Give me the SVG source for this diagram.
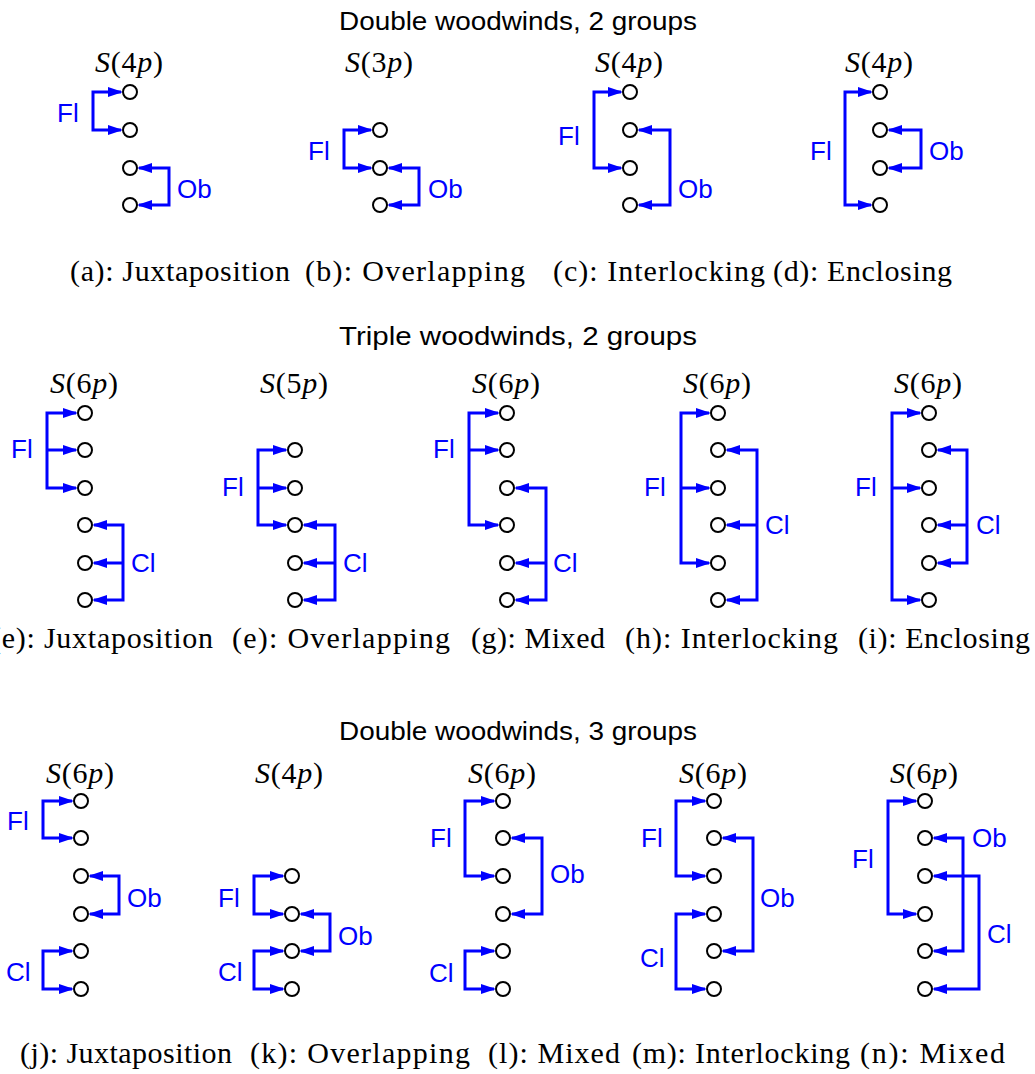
<svg xmlns="http://www.w3.org/2000/svg" width="1035" height="1074" viewBox="0 0 1035 1074">
<style>
.c{fill:#fff;stroke:#000;stroke-width:2}
.w{fill:none;stroke:#0000ff;stroke-width:3;stroke-linejoin:miter;stroke-linecap:butt}
.o{marker-start:url(#ah);marker-end:url(#ah)}
.a{marker-end:url(#ah)}
.lb{font-family:"Liberation Sans",Arial,sans-serif;font-size:26px;fill:#0000ff}
.t{font-family:"Liberation Sans",Arial,sans-serif;font-size:25px;fill:#000;text-anchor:middle}
.s{font-family:"Liberation Serif","Times New Roman",serif;font-size:30px;fill:#000;text-anchor:middle}
.cap{font-family:"Liberation Serif","Times New Roman",serif;font-size:30px;fill:#000}
.i{font-style:italic}
</style>
<defs>
<marker id="ah" viewBox="0 0 15 10" refX="13" refY="5" markerWidth="15" markerHeight="10" markerUnits="userSpaceOnUse" orient="auto-start-reverse">
<path d="M0,0 L15,5 L0,10 z" fill="#0000ff"/>
</marker>
</defs>
<rect width="1035" height="1074" fill="#fff"/>

<g id="titles">
<text class="t" x="518" y="30" textLength="358" lengthAdjust="spacingAndGlyphs">Double woodwinds, 2 groups</text>
<text class="t" x="518" y="345" textLength="358" lengthAdjust="spacingAndGlyphs">Triple woodwinds, 2 groups</text>
<text class="t" x="518" y="740" textLength="358" lengthAdjust="spacingAndGlyphs">Double woodwinds, 3 groups</text>
</g>

<g id="connectors">
<!-- a -->
<path class="w o" d="M121,92 H93 V130 H121"/>
<path class="w o" d="M139,168 H169 V205 H139"/>
<!-- b -->
<path class="w o" d="M371,130 H344 V168 H371"/>
<path class="w o" d="M389,168 H419 V205 H389"/>
<!-- c -->
<path class="w o" d="M621,92 H594 V168 H621"/>
<path class="w o" d="M639,130 H670 V205 H639"/>
<!-- d -->
<path class="w o" d="M871,92 H845 V205 H871"/>
<path class="w o" d="M889,130 H921 V168 H889"/>
<!-- e -->
<path class="w o" d="M76,413 H47 V488 H76"/>
<path class="w a" d="M47,450 H76"/>
<path class="w o" d="M94,525 H123 V600 H94"/>
<path class="w a" d="M123,563 H94"/>
<!-- e2 -->
<path class="w o" d="M286,450 H258 V525 H286"/>
<path class="w a" d="M258,488 H286"/>
<path class="w o" d="M304,525 H335 V600 H304"/>
<path class="w a" d="M335,563 H304"/>
<!-- g -->
<path class="w o" d="M498,413 H469 V525 H498"/>
<path class="w a" d="M469,450 H498"/>
<path class="w o" d="M516,488 H546 V600 H516"/>
<path class="w a" d="M546,563 H516"/>
<!-- h -->
<path class="w o" d="M709,413 H681 V563 H709"/>
<path class="w a" d="M681,488 H709"/>
<path class="w o" d="M727,450 H757 V600 H727"/>
<path class="w a" d="M757,525 H727"/>
<!-- i -->
<path class="w o" d="M920,413 H892 V600 H920"/>
<path class="w a" d="M892,488 H920"/>
<path class="w o" d="M938,450 H967 V563 H938"/>
<path class="w a" d="M967,525 H938"/>
<!-- j -->
<path class="w o" d="M72,801 H43 V838 H72"/>
<path class="w o" d="M90,876 H119 V914 H90"/>
<path class="w o" d="M72,951 H43 V989 H72"/>
<!-- k -->
<path class="w o" d="M283,876 H254 V914 H283"/>
<path class="w o" d="M301,914 H330 V951 H301"/>
<path class="w o" d="M283,951 H254 V989 H283"/>
<!-- l -->
<path class="w o" d="M494,801 H465 V876 H494"/>
<path class="w o" d="M512,838 H542 V914 H512"/>
<path class="w o" d="M494,951 H465 V989 H494"/>
<!-- m -->
<path class="w o" d="M705,801 H676 V876 H705"/>
<path class="w o" d="M723,838 H753 V951 H723"/>
<path class="w o" d="M705,914 H676 V989 H705"/>
<!-- n -->
<path class="w o" d="M916,801 H888 V914 H916"/>
<path class="w o" d="M934,876 H979 V989 H934"/>
<path class="w o" d="M934,838 H963 V951 H934"/>
</g>

<g id="diagram-a">
<text class="s" x="129" y="72" textLength="68" lengthAdjust="spacing"><tspan class="i">S</tspan>(4<tspan class="i">p</tspan>)</text>
<circle class="c" cx="130" cy="92" r="7"/><circle class="c" cx="130" cy="130" r="7"/><circle class="c" cx="130" cy="168" r="7"/><circle class="c" cx="130" cy="205" r="7"/>
<text class="lb" x="57" y="122">Fl</text><text class="lb" x="177" y="198">Ob</text>
</g>
<g id="diagram-b">
<text class="s" x="379" y="72" textLength="68" lengthAdjust="spacing"><tspan class="i">S</tspan>(3<tspan class="i">p</tspan>)</text>
<circle class="c" cx="380" cy="130" r="7"/><circle class="c" cx="380" cy="168" r="7"/><circle class="c" cx="380" cy="205" r="7"/>
<text class="lb" x="308" y="160">Fl</text><text class="lb" x="428" y="198">Ob</text>
</g>
<g id="diagram-c">
<text class="s" x="629" y="72" textLength="68" lengthAdjust="spacing"><tspan class="i">S</tspan>(4<tspan class="i">p</tspan>)</text>
<circle class="c" cx="630" cy="92" r="7"/><circle class="c" cx="630" cy="130" r="7"/><circle class="c" cx="630" cy="168" r="7"/><circle class="c" cx="630" cy="205" r="7"/>
<text class="lb" x="558" y="145">Fl</text><text class="lb" x="678" y="198">Ob</text>
</g>
<g id="diagram-d">
<text class="s" x="879" y="72" textLength="68" lengthAdjust="spacing"><tspan class="i">S</tspan>(4<tspan class="i">p</tspan>)</text>
<circle class="c" cx="880" cy="92" r="7"/><circle class="c" cx="880" cy="130" r="7"/><circle class="c" cx="880" cy="168" r="7"/><circle class="c" cx="880" cy="205" r="7"/>
<text class="lb" x="810" y="160">Fl</text><text class="lb" x="929" y="160">Ob</text>
</g>

<g id="diagram-e">
<text class="s" x="84" y="393" textLength="68" lengthAdjust="spacing"><tspan class="i">S</tspan>(6<tspan class="i">p</tspan>)</text>
<circle class="c" cx="85" cy="413" r="7"/><circle class="c" cx="85" cy="450" r="7"/><circle class="c" cx="85" cy="488" r="7"/><circle class="c" cx="85" cy="525" r="7"/><circle class="c" cx="85" cy="563" r="7"/><circle class="c" cx="85" cy="600" r="7"/>
<text class="lb" x="11" y="458">Fl</text><text class="lb" x="131" y="572">Cl</text>
</g>
<g id="diagram-e2">
<text class="s" x="294" y="393" textLength="68" lengthAdjust="spacing"><tspan class="i">S</tspan>(5<tspan class="i">p</tspan>)</text>
<circle class="c" cx="295" cy="450" r="7"/><circle class="c" cx="295" cy="488" r="7"/><circle class="c" cx="295" cy="525" r="7"/><circle class="c" cx="295" cy="563" r="7"/><circle class="c" cx="295" cy="600" r="7"/>
<text class="lb" x="222" y="496">Fl</text><text class="lb" x="343" y="572">Cl</text>
</g>
<g id="diagram-g">
<text class="s" x="506" y="393" textLength="68" lengthAdjust="spacing"><tspan class="i">S</tspan>(6<tspan class="i">p</tspan>)</text>
<circle class="c" cx="507" cy="413" r="7"/><circle class="c" cx="507" cy="450" r="7"/><circle class="c" cx="507" cy="488" r="7"/><circle class="c" cx="507" cy="525" r="7"/><circle class="c" cx="507" cy="563" r="7"/><circle class="c" cx="507" cy="600" r="7"/>
<text class="lb" x="433" y="458">Fl</text><text class="lb" x="553" y="572">Cl</text>
</g>
<g id="diagram-h">
<text class="s" x="717" y="393" textLength="68" lengthAdjust="spacing"><tspan class="i">S</tspan>(6<tspan class="i">p</tspan>)</text>
<circle class="c" cx="718" cy="413" r="7"/><circle class="c" cx="718" cy="450" r="7"/><circle class="c" cx="718" cy="488" r="7"/><circle class="c" cx="718" cy="525" r="7"/><circle class="c" cx="718" cy="563" r="7"/><circle class="c" cx="718" cy="600" r="7"/>
<text class="lb" x="644" y="496">Fl</text><text class="lb" x="765" y="534">Cl</text>
</g>
<g id="diagram-i">
<text class="s" x="928" y="393" textLength="68" lengthAdjust="spacing"><tspan class="i">S</tspan>(6<tspan class="i">p</tspan>)</text>
<circle class="c" cx="929" cy="413" r="7"/><circle class="c" cx="929" cy="450" r="7"/><circle class="c" cx="929" cy="488" r="7"/><circle class="c" cx="929" cy="525" r="7"/><circle class="c" cx="929" cy="563" r="7"/><circle class="c" cx="929" cy="600" r="7"/>
<text class="lb" x="855" y="496">Fl</text><text class="lb" x="976" y="534">Cl</text>
</g>

<g id="diagram-j">
<text class="s" x="80" y="783" textLength="68" lengthAdjust="spacing"><tspan class="i">S</tspan>(6<tspan class="i">p</tspan>)</text>
<circle class="c" cx="81" cy="801" r="7"/><circle class="c" cx="81" cy="838" r="7"/><circle class="c" cx="81" cy="876" r="7"/><circle class="c" cx="81" cy="914" r="7"/><circle class="c" cx="81" cy="951" r="7"/><circle class="c" cx="81" cy="989" r="7"/>
<text class="lb" x="7" y="830">Fl</text><text class="lb" x="127" y="907">Ob</text><text class="lb" x="6" y="981">Cl</text>
</g>
<g id="diagram-k">
<text class="s" x="289" y="783" textLength="68" lengthAdjust="spacing"><tspan class="i">S</tspan>(4<tspan class="i">p</tspan>)</text>
<circle class="c" cx="292" cy="876" r="7"/><circle class="c" cx="292" cy="914" r="7"/><circle class="c" cx="292" cy="951" r="7"/><circle class="c" cx="292" cy="989" r="7"/>
<text class="lb" x="218" y="907">Fl</text><text class="lb" x="338" y="945">Ob</text><text class="lb" x="218" y="981">Cl</text>
</g>
<g id="diagram-l">
<text class="s" x="502" y="783" textLength="68" lengthAdjust="spacing"><tspan class="i">S</tspan>(6<tspan class="i">p</tspan>)</text>
<circle class="c" cx="503" cy="801" r="7"/><circle class="c" cx="503" cy="838" r="7"/><circle class="c" cx="503" cy="876" r="7"/><circle class="c" cx="503" cy="914" r="7"/><circle class="c" cx="503" cy="951" r="7"/><circle class="c" cx="503" cy="989" r="7"/>
<text class="lb" x="430" y="847">Fl</text><text class="lb" x="550" y="883">Ob</text><text class="lb" x="429" y="982">Cl</text>
</g>
<g id="diagram-m">
<text class="s" x="713" y="783" textLength="68" lengthAdjust="spacing"><tspan class="i">S</tspan>(6<tspan class="i">p</tspan>)</text>
<circle class="c" cx="714" cy="801" r="7"/><circle class="c" cx="714" cy="838" r="7"/><circle class="c" cx="714" cy="876" r="7"/><circle class="c" cx="714" cy="914" r="7"/><circle class="c" cx="714" cy="951" r="7"/><circle class="c" cx="714" cy="989" r="7"/>
<text class="lb" x="641" y="847">Fl</text><text class="lb" x="760" y="907">Ob</text><text class="lb" x="640" y="967">Cl</text>
</g>
<g id="diagram-n">
<text class="s" x="924" y="783" textLength="68" lengthAdjust="spacing"><tspan class="i">S</tspan>(6<tspan class="i">p</tspan>)</text>
<circle class="c" cx="925" cy="801" r="7"/><circle class="c" cx="925" cy="838" r="7"/><circle class="c" cx="925" cy="876" r="7"/><circle class="c" cx="925" cy="914" r="7"/><circle class="c" cx="925" cy="951" r="7"/><circle class="c" cx="925" cy="989" r="7"/>
<text class="lb" x="852" y="868">Fl</text><text class="lb" x="972" y="847">Ob</text><text class="lb" x="987" y="943">Cl</text>
</g>

<g id="captions">
<text class="cap" x="70" y="281" textLength="220" lengthAdjust="spacing">(a): Juxtaposition</text>
<text class="cap" x="305" y="281" textLength="220" lengthAdjust="spacing">(b): Overlapping</text>
<text class="cap" x="553" y="281" textLength="212" lengthAdjust="spacing">(c): Interlocking</text>
<text class="cap" x="773" y="281" textLength="179" lengthAdjust="spacing">(d): Enclosing</text>
<text class="cap" x="-9" y="648" textLength="222" lengthAdjust="spacing">(e): Juxtaposition</text>
<text class="cap" x="232" y="648" textLength="218" lengthAdjust="spacing">(e): Overlapping</text>
<text class="cap" x="471" y="648" textLength="134" lengthAdjust="spacing">(g): Mixed</text>
<text class="cap" x="625" y="648" textLength="213" lengthAdjust="spacing">(h): Interlocking</text>
<text class="cap" x="858" y="648" textLength="172" lengthAdjust="spacing">(i): Enclosing</text>
<text class="cap" x="20" y="1063" textLength="212" lengthAdjust="spacing">(j): Juxtaposition</text>
<text class="cap" x="250" y="1063" textLength="220" lengthAdjust="spacing">(k): Overlapping</text>
<text class="cap" x="488" y="1063" textLength="132" lengthAdjust="spacing">(l): Mixed</text>
<text class="cap" x="632" y="1063" textLength="218" lengthAdjust="spacing">(m): Interlocking</text>
<text class="cap" x="860" y="1063" textLength="145" lengthAdjust="spacing">(n): Mixed</text>
</g>
</svg>
